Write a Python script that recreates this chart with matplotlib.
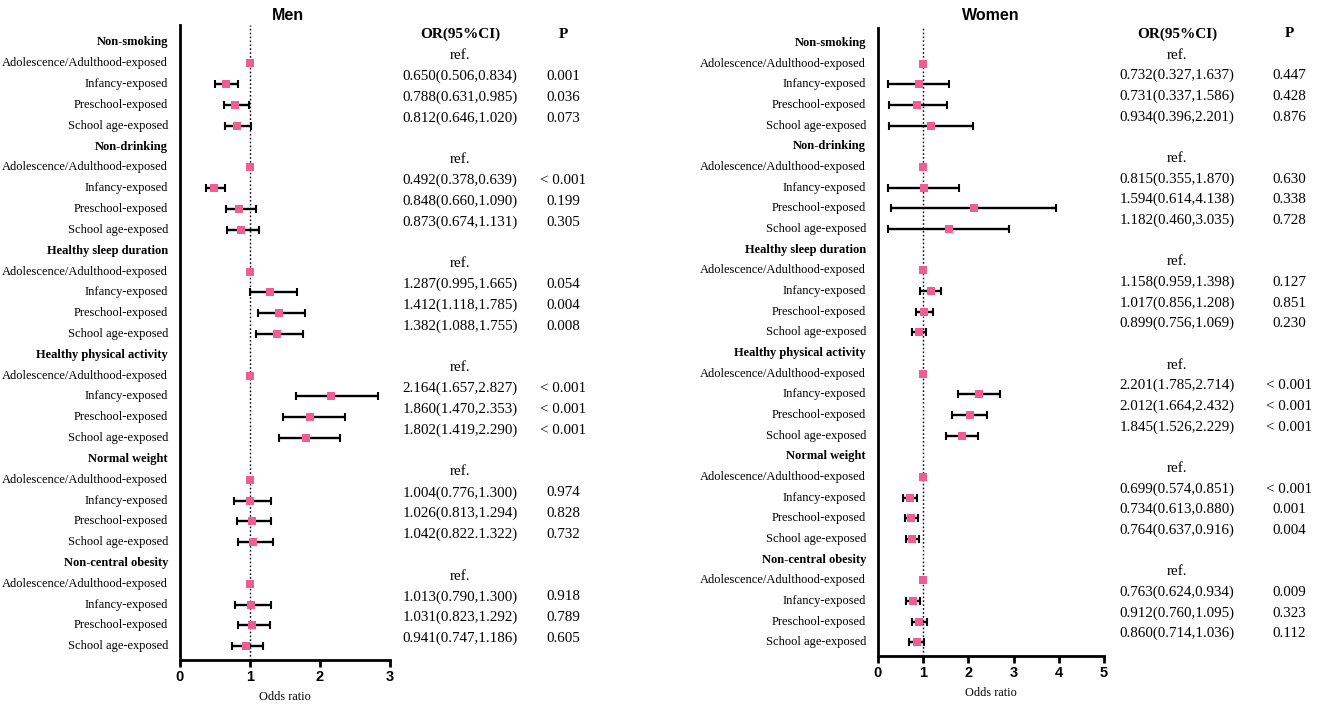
import matplotlib
matplotlib.use('Agg')
import matplotlib.pyplot as plt
import matplotlib.transforms as mtrans

groups = ['Non-smoking', 'Non-drinking', 'Healthy sleep duration',
          'Healthy physical activity', 'Normal weight', 'Non-central obesity']
subgroups = ['Adolescence/Adulthood-exposed', 'Infancy-exposed',
             'Preschool-exposed', 'School age-exposed']

# ---- Men: plotted odds ratios and CI (per group: ref, infancy, preschool, school age)
men_or = [1, 0.650, 0.788, 0.812, 1, 0.492, 0.848, 0.873, 1, 1.287, 1.412, 1.382,
          1, 2.164, 1.860, 1.802, 1, 1.004, 1.026, 1.042, 1, 1.013, 1.031, 0.941]
men_lo = [1, 0.506, 0.631, 0.646, 1, 0.378, 0.660, 0.674, 1, 0.995, 1.118, 1.088,
          1, 1.657, 1.470, 1.419, 1, 0.776, 0.813, 0.822, 1, 0.790, 0.823, 0.747]
men_hi = [1, 0.834, 0.985, 1.020, 1, 0.639, 1.090, 1.131, 1, 1.665, 1.785, 1.755,
          1, 2.827, 2.353, 2.290, 1, 1.300, 1.294, 1.322, 1, 1.300, 1.292, 1.186]
men_text = ['ref.', '0.650(0.506,0.834)', '0.788(0.631,0.985)', '0.812(0.646,1.020)',
            'ref.', '0.492(0.378,0.639)', '0.848(0.660,1.090)', '0.873(0.674,1.131)',
            'ref.', '1.287(0.995,1.665)', '1.412(1.118,1.785)', '1.382(1.088,1.755)',
            'ref.', '2.164(1.657,2.827)', '1.860(1.470,2.353)', '1.802(1.419,2.290)',
            'ref.', '1.004(0.776,1.300)', '1.026(0.813,1.294)', '1.042(0.822.1.322)',
            'ref.', '1.013(0.790,1.300)', '1.031(0.823,1.292)', '0.941(0.747,1.186)']
men_p = ['', '0.001', '0.036', '0.073', '', '< 0.001', '0.199', '0.305',
         '', '0.054', '0.004', '0.008', '', '< 0.001', '< 0.001', '< 0.001',
         '', '0.974', '0.828', '0.732', '', '0.918', '0.789', '0.605']
men_ticks = [0, 1, 2, 3]

# ---- Women: plotted odds ratios and CI as drawn in the figure
women_or = [1, 0.90, 0.87, 1.17, 1, 1.01, 2.12, 1.56, 1, 1.163, 1.022, 0.904,
            1, 2.23, 2.03, 1.867, 1, 0.704, 0.733, 0.763, 1, 0.77, 0.911, 0.859]
women_lo = [1, 0.22, 0.24, 0.24, 1, 0.23, 0.29, 0.22, 1, 0.94, 0.837, 0.748,
            1, 1.763, 1.644, 1.511, 1, 0.563, 0.60, 0.622, 1, 0.615, 0.748, 0.696]
women_hi = [1, 1.57, 1.53, 2.11, 1, 1.79, 3.94, 2.89, 1, 1.393, 1.207, 1.067,
            1, 2.70, 2.42, 2.222, 1, 0.852, 0.889, 0.911, 1, 0.926, 1.089, 1.022]
women_text = ['ref.', '0.732(0.327,1.637)', '0.731(0.337,1.586)', '0.934(0.396,2.201)',
              'ref.', '0.815(0.355,1.870)', '1.594(0.614,4.138)', '1.182(0.460,3.035)',
              'ref.', '1.158(0.959,1.398)', '1.017(0.856,1.208)', '0.899(0.756,1.069)',
              'ref.', '2.201(1.785,2.714)', '2.012(1.664,2.432)', '1.845(1.526,2.229)',
              'ref.', '0.699(0.574,0.851)', '0.734(0.613,0.880)', '0.764(0.637,0.916)',
              'ref.', '0.763(0.624,0.934)', '0.912(0.760,1.095)', '0.860(0.714,1.036)']
women_p = ['', '0.447', '0.428', '0.876', '', '0.630', '0.338', '0.728',
           '', '0.127', '0.851', '0.230', '', '< 0.001', '< 0.001', '< 0.001',
           '', '< 0.001', '0.001', '0.004', '', '0.009', '0.323', '0.112']
women_ticks = [0, 1, 2, 3, 4, 5]

W, H = 1325, 709
fig = plt.figure(figsize=(W / 100, H / 100), dpi=100)
SERIF = 'Liberation Serif'
SANS = 'Liberation Sans'
PINK = '#EE5E92'


def panel(rect, title, title_xy, ors, los, his, texts, ps, ticks, ylim,
          label_x, or_x, p_x, text_off):
    l, t, r, b = rect
    ax = fig.add_axes([l / W, 1 - b / H, (r - l) / W, (b - t) / H])
    ax.set_xlim(ticks[0], ticks[-1])
    ax.set_ylim(*ylim)
    for s in ['top', 'right']:
        ax.spines[s].set_visible(False)
    for s in ['left', 'bottom']:
        ax.spines[s].set_linewidth(2.0)
        ax.spines[s].set_color('black')
    ax.set_yticks([])
    ax.set_xticks(ticks)
    ax.set_xticklabels([str(v) for v in ticks], fontfamily=SANS,
                       fontweight='bold', fontsize=10.5)
    ax.tick_params(axis='x', length=5, width=2.0, direction='out', pad=2)
    ax.set_xlabel('Odds ratio', fontfamily=SERIF, fontsize=8.8, labelpad=5)
    ax.axvline(1, color='black', linestyle=(0, (1.2, 1.6)), linewidth=1.0, zorder=1)

    trans = mtrans.blended_transform_factory(fig.transFigure, ax.transData)
    rows = []
    for g, name in enumerate(groups):
        hr = g * 5
        ax.text(label_x / W, hr, name, transform=trans, ha='right', va='center',
                fontfamily=SERIF, fontweight='bold', fontsize=9)
        for k, sub in enumerate(subgroups):
            rows.append(hr + 1 + k)
            ax.text(label_x / W, hr + 1 + k, sub, transform=trans, ha='right',
                    va='center', fontfamily=SERIF, fontsize=9)
    for y, o, lo, hi, tx, p in zip(rows, ors, los, his, texts, ps):
        if hi > lo:
            ax.errorbar([o], [y], xerr=[[o - lo], [hi - o]], fmt='none',
                        ecolor='black', elinewidth=1.7, capsize=2.8,
                        capthick=1.5, zorder=2)
        ax.plot([o], [y], marker='s', markersize=5.2, color=PINK,
                markeredgewidth=0, zorder=3, clip_on=False)
        ax.text(or_x / W, y - text_off, tx, transform=trans, ha='center',
                va='center', fontfamily=SERIF, fontsize=10.8)
        if p:
            ax.text(p_x / W, y - text_off, p, transform=trans, ha='center',
                    va='center', fontfamily=SERIF, fontsize=10.8)
    ax.text(or_x / W, -text_off - 0.02, 'OR(95%CI)', transform=trans, ha='center',
            va='center', fontfamily=SERIF, fontweight='bold', fontsize=11)
    ax.text(p_x / W, -text_off - 0.02, 'P', transform=trans, ha='center',
            va='center', fontfamily=SERIF, fontweight='bold', fontsize=11)
    fig.text(title_xy[0] / W, 1 - title_xy[1] / H, title, ha='center', va='center',
             fontfamily=SANS, fontweight='bold', fontsize=11.5)
    return ax


panel((180, 25, 390, 660), 'Men', (287.5, 15), men_or, men_lo, men_hi,
      men_text, men_p, men_ticks, (29.66, -0.84), 168, 460, 563, 0.37)
panel((878, 28, 1104, 656), 'Women', (991, 16), women_or, women_lo, women_hi,
      women_text, women_p, women_ticks, (29.66, -0.73), 866, 1177, 1289, 0.42)

fig.savefig('out.png', dpi=100)
